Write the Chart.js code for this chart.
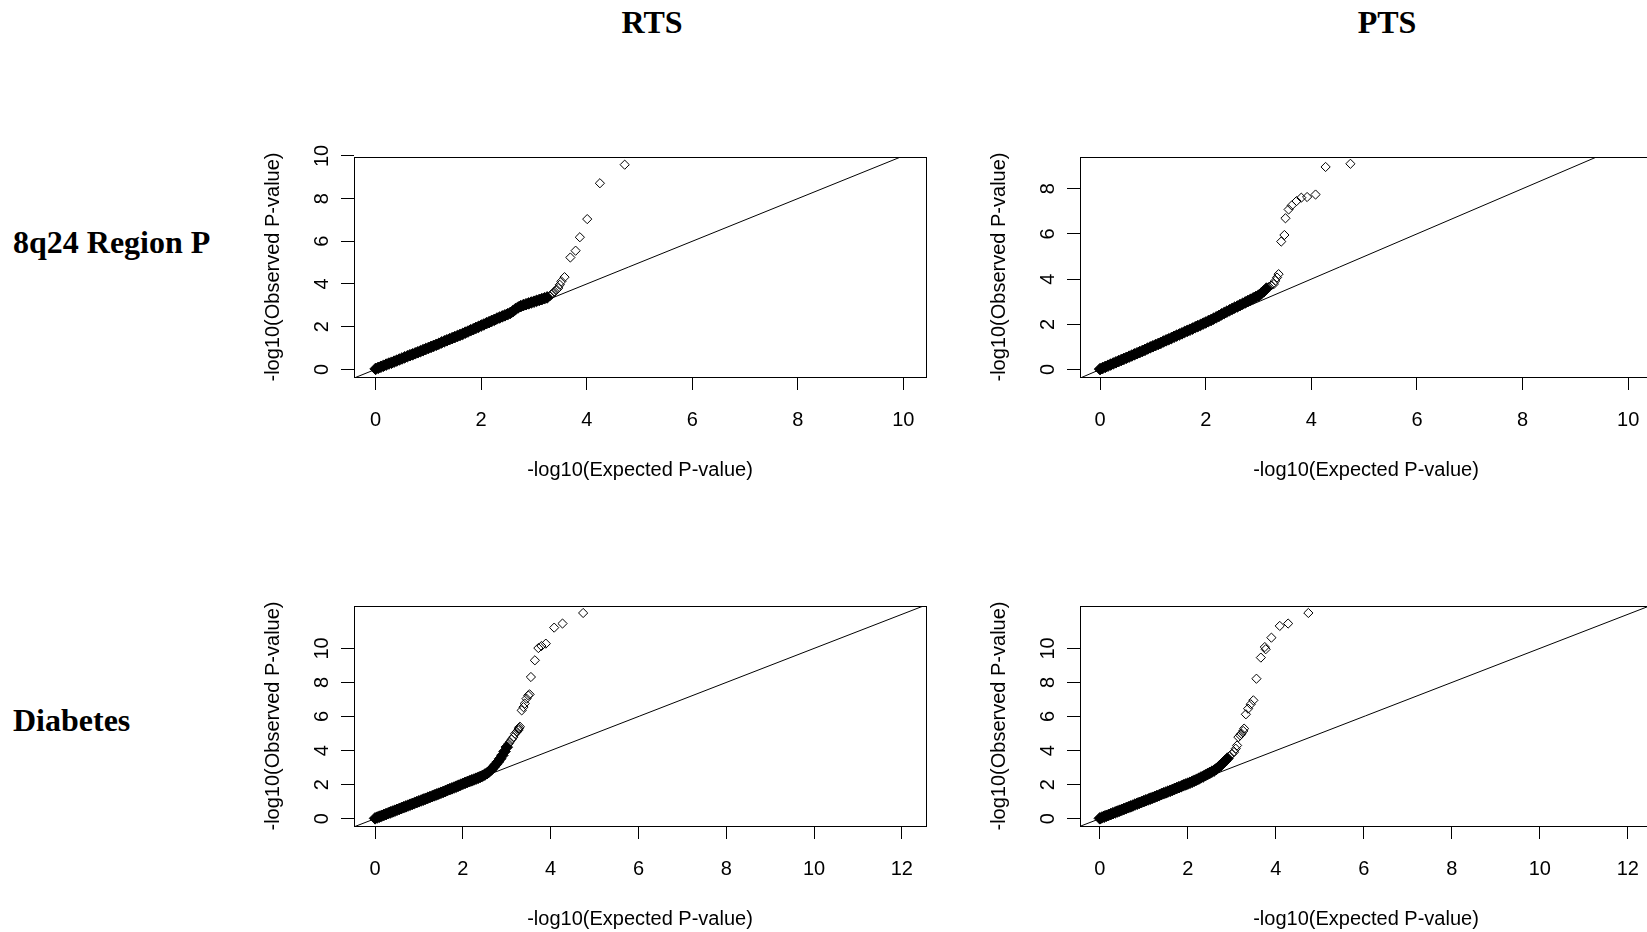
<!DOCTYPE html>
<html>
<head>
<meta charset="utf-8">
<script src="https://cdn.jsdelivr.net/npm/chart.js@4.4.1/dist/chart.umd.min.js"></script>
<style>
html, body { margin: 0; padding: 0; background: #fff; }
body { position: relative; width: 1647px; height: 932px; overflow: hidden; }
.lbl { position: absolute; font-family: "Liberation Serif", "Times New Roman", serif; font-weight: bold;
       font-size: 32px; line-height: 32px; color: #000; white-space: nowrap; }
canvas { position: absolute; }
</style>
</head>
<body>
<div class="lbl" style="left:652px; top:6px; transform:translateX(-50%)">RTS</div>
<div class="lbl" style="left:1387px; top:6px; transform:translateX(-50%)">PTS</div>
<div class="lbl" style="left:13px; top:226px">8q24 Region P</div>
<div class="lbl" style="left:13px; top:704px">Diabetes</div>

<script>
// tick values
const ticksTo8 = [0, 2, 4, 6, 8];
const ticksTo10 = [0, 2, 4, 6, 8, 10];
const ticksTo12 = [0, 2, 4, 6, 8, 10, 12];

// y = x reference line, drawn past both ends and clipped by the plot box
const diagonalEnds = [-1, 14];

// 8q24 Region P - RTS: bulk of the SNPs, then the top hits
const rtsRegionBulkExp = [
  0.00, 0.05, 0.10, 0.15, 0.20, 0.25, 0.30, 0.35, 0.40, 0.45, 0.50, 0.55, 0.60, 0.65, 0.70, 0.75, 0.80, 0.85,
  0.90, 0.95, 1.00, 1.05, 1.10, 1.15, 1.20, 1.25, 1.30, 1.35, 1.40, 1.45, 1.50, 1.55, 1.60, 1.65, 1.70, 1.75,
  1.80, 1.85, 1.90, 1.95, 2.00, 2.05, 2.10, 2.15, 2.20, 2.25, 2.30, 2.35, 2.40, 2.45, 2.50, 2.55, 2.60, 2.65,
  2.70, 2.75, 2.80, 2.85, 2.90, 2.95, 3.00, 3.05, 3.10, 3.15, 3.20, 3.25
];
const rtsRegionBulkObs = [
  0.02, 0.07, 0.12, 0.17, 0.22, 0.27, 0.31, 0.36, 0.41, 0.46, 0.51, 0.56, 0.61, 0.66, 0.70, 0.75, 0.80, 0.85,
  0.90, 0.95, 1.00, 1.05, 1.10, 1.15, 1.20, 1.26, 1.31, 1.36, 1.41, 1.46, 1.51, 1.56, 1.61, 1.66, 1.72, 1.77,
  1.83, 1.88, 1.94, 1.99, 2.05, 2.10, 2.16, 2.21, 2.27, 2.32, 2.38, 2.43, 2.48, 2.53, 2.58, 2.64, 2.72, 2.82,
  2.90, 2.96, 3.01, 3.05, 3.09, 3.13, 3.17, 3.21, 3.25, 3.29, 3.33, 3.37
];
const rtsRegionTopExp = [3.30, 3.33, 3.36, 3.39, 3.43, 3.46, 3.49, 3.52, 3.58, 3.69, 3.79, 3.87, 4.01, 4.25, 4.72];
const rtsRegionTopObs = [3.42, 3.50, 3.57, 3.65, 3.73, 3.81, 3.96, 4.12, 4.32, 5.24, 5.56, 6.19, 7.04, 8.72, 9.59];

// 8q24 Region P - PTS
const ptsRegionBulkExp = [
  0.00, 0.05, 0.10, 0.15, 0.20, 0.25, 0.30, 0.35, 0.40, 0.45, 0.50, 0.55, 0.60, 0.65, 0.70, 0.75, 0.80, 0.85,
  0.90, 0.95, 1.00, 1.05, 1.10, 1.15, 1.20, 1.25, 1.30, 1.35, 1.40, 1.45, 1.50, 1.55, 1.60, 1.65, 1.70, 1.75,
  1.80, 1.85, 1.90, 1.95, 2.00, 2.05, 2.10, 2.15, 2.20, 2.25, 2.30, 2.35, 2.40, 2.45, 2.50, 2.55, 2.60, 2.65,
  2.70, 2.75, 2.80, 2.85, 2.90, 2.95, 3.00, 3.05, 3.10, 3.15
];
const ptsRegionBulkObs = [
  0.02, 0.07, 0.12, 0.17, 0.22, 0.27, 0.32, 0.37, 0.42, 0.47, 0.52, 0.57, 0.62, 0.67, 0.72, 0.77, 0.82, 0.87,
  0.93, 0.98, 1.03, 1.08, 1.13, 1.18, 1.24, 1.29, 1.34, 1.39, 1.45, 1.50, 1.55, 1.60, 1.66, 1.71, 1.76, 1.81,
  1.87, 1.92, 1.97, 2.03, 2.08, 2.14, 2.19, 2.25, 2.31, 2.37, 2.44, 2.50, 2.56, 2.62, 2.68, 2.74, 2.79, 2.85,
  2.91, 2.97, 3.03, 3.09, 3.15, 3.21, 3.27, 3.36, 3.46, 3.58
];
const ptsRegionTopExp = [3.20, 3.24, 3.29, 3.32, 3.35, 3.38, 3.43, 3.49, 3.51, 3.57, 3.63, 3.72, 3.81, 3.92, 4.08, 4.27, 4.74];
const ptsRegionTopObs = [3.66, 3.72, 3.78, 3.93, 4.07, 4.22, 5.66, 5.95, 6.69, 7.08, 7.26, 7.45, 7.60, 7.63, 7.74, 8.96, 9.10];

// Diabetes - RTS
const rtsDiabetesBulkExp = [
  0.00, 0.05, 0.10, 0.15, 0.20, 0.25, 0.30, 0.35, 0.40, 0.45, 0.50, 0.55, 0.60, 0.65, 0.70, 0.75, 0.80, 0.85,
  0.90, 0.95, 1.00, 1.05, 1.10, 1.15, 1.20, 1.25, 1.30, 1.35, 1.40, 1.45, 1.50, 1.55, 1.60, 1.65, 1.70, 1.75,
  1.80, 1.85, 1.90, 1.95, 2.00, 2.05, 2.10, 2.15, 2.20, 2.25, 2.30, 2.35, 2.40, 2.45, 2.50, 2.55, 2.60, 2.65,
  2.70, 2.75, 2.80, 2.85, 2.90, 2.95, 3.00
];
const rtsDiabetesBulkObs = [
  0.02, 0.07, 0.12, 0.17, 0.22, 0.27, 0.32, 0.37, 0.42, 0.47, 0.52, 0.57, 0.62, 0.67, 0.72, 0.77, 0.82, 0.87,
  0.92, 0.97, 1.02, 1.07, 1.12, 1.17, 1.22, 1.27, 1.32, 1.37, 1.42, 1.47, 1.52, 1.57, 1.62, 1.68, 1.73, 1.78,
  1.83, 1.88, 1.94, 1.99, 2.05, 2.10, 2.15, 2.20, 2.25, 2.30, 2.35, 2.40, 2.46, 2.52, 2.59, 2.67, 2.77, 2.89,
  3.03, 3.18, 3.34, 3.52, 3.72, 3.95, 4.20
];
const rtsDiabetesTopExp = [
  3.04, 3.07, 3.11, 3.15, 3.19, 3.23, 3.26, 3.27, 3.28, 3.30, 3.34, 3.38, 3.41, 3.45, 3.49, 3.52, 3.55, 3.64,
  3.72, 3.79, 3.89, 4.08, 4.27, 4.74
];
const rtsDiabetesTopObs = [
  4.40, 4.50, 4.65, 4.79, 4.99, 5.10, 5.19, 5.26, 5.33, 5.40, 6.36, 6.55, 6.76, 7.05, 7.24, 7.30, 8.32, 9.30,
  10.02, 10.14, 10.28, 11.22, 11.46, 12.08
];

// Diabetes - PTS
const ptsDiabetesBulkExp = [
  0.00, 0.05, 0.10, 0.15, 0.20, 0.25, 0.30, 0.35, 0.40, 0.45, 0.50, 0.55, 0.60, 0.65, 0.70, 0.75, 0.80, 0.85,
  0.90, 0.95, 1.00, 1.05, 1.10, 1.15, 1.20, 1.25, 1.30, 1.35, 1.40, 1.45, 1.50, 1.55, 1.60, 1.65, 1.70, 1.75,
  1.80, 1.85, 1.90, 1.95, 2.00, 2.05, 2.10, 2.15, 2.20, 2.25, 2.30, 2.35, 2.40, 2.45, 2.50, 2.55, 2.60, 2.65,
  2.70, 2.75, 2.80, 2.85, 2.90
];
const ptsDiabetesBulkObs = [
  0.02, 0.07, 0.12, 0.17, 0.22, 0.27, 0.32, 0.37, 0.42, 0.47, 0.52, 0.57, 0.62, 0.67, 0.72, 0.77, 0.83, 0.88,
  0.93, 0.98, 1.03, 1.08, 1.13, 1.18, 1.23, 1.28, 1.33, 1.38, 1.44, 1.49, 1.54, 1.59, 1.64, 1.69, 1.75, 1.80,
  1.85, 1.90, 1.96, 2.01, 2.06, 2.11, 2.17, 2.23, 2.29, 2.35, 2.42, 2.48, 2.55, 2.62, 2.69, 2.76, 2.83, 2.92,
  3.03, 3.14, 3.27, 3.40, 3.53
];
const ptsDiabetesTopExp = [
  2.95, 3.00, 3.05, 3.09, 3.12, 3.15, 3.19, 3.22, 3.26, 3.28, 3.32, 3.37, 3.43, 3.49, 3.56, 3.66, 3.75, 3.77,
  3.90, 4.09, 4.28, 4.74
];
const ptsDiabetesTopObs = [
  3.68, 3.80, 3.91, 4.11, 4.30, 4.79, 4.90, 4.99, 5.15, 5.29, 6.13, 6.46, 6.72, 6.95, 8.22, 9.46, 10.08, 9.95,
  10.63, 11.32, 11.46, 12.08
];

const AXIS_FONT = { family: '"Liberation Sans", Arial, sans-serif', size: 20 };
const TICK_LEN = 13;
const Y_AXIS_W = 100;
const X_AXIS_H = 110;
const PAD_TOP = 40;

// panel boxes in page pixels, plus axis ranges
const panels = [
  { box: [354, 157, 926, 377], x: [-0.41, 10.43], y: [-0.36, 9.95], xt: ticksTo10, yt: ticksTo10,
    bulk: [rtsRegionBulkExp, rtsRegionBulkObs], top: [rtsRegionTopExp, rtsRegionTopObs] },
  { box: [1080, 157, 1652, 377], x: [-0.38, 10.45], y: [-0.33, 9.40], xt: ticksTo10, yt: ticksTo8,
    bulk: [ptsRegionBulkExp, ptsRegionBulkObs], top: [ptsRegionTopExp, ptsRegionTopObs] },
  { box: [354, 606, 926, 826], x: [-0.48, 12.55], y: [-0.43, 12.49], xt: ticksTo12, yt: ticksTo10,
    bulk: [rtsDiabetesBulkExp, rtsDiabetesBulkObs], top: [rtsDiabetesTopExp, rtsDiabetesTopObs] },
  { box: [1080, 606, 1652, 826], x: [-0.45, 12.55], y: [-0.43, 12.49], xt: ticksTo12, yt: ticksTo10,
    bulk: [ptsDiabetesBulkExp, ptsDiabetesBulkObs], top: [ptsDiabetesTopExp, ptsDiabetesTopObs] }
];

// frame around the plotting region, like box() in base graphics
const plotBox = {
  id: 'plotBox',
  afterDatasetsDraw(chart) {
    const { ctx, chartArea: a } = chart;
    ctx.save();
    ctx.strokeStyle = '#000';
    ctx.lineWidth = 1;
    ctx.strokeRect(Math.round(a.left) + 0.5, Math.round(a.top) + 0.5,
                   Math.round(a.right - a.left), Math.round(a.bottom - a.top));
    ctx.restore();
  }
};

const measureCtx = document.createElement('canvas').getContext('2d');
measureCtx.font = '20px "Liberation Sans"';
function yLabelPadding(values) {
  const widest = Math.max(...values.map(v => measureCtx.measureText(String(v)).width));
  return 32 - TICK_LEN - widest / 2;
}

const toPoints = ([xs, ys]) => xs.map((x, i) => ({ x, y: ys[i] }));

panels.forEach(p => {
  const [l, t, r, b] = p.box;
  const canvas = document.createElement('canvas');
  canvas.width = (r - l) + Y_AXIS_W + 20 + 20;
  canvas.height = (b - t) + PAD_TOP + X_AXIS_H + 10;
  canvas.style.left = (l - Y_AXIS_W - 20) + 'px';
  canvas.style.top = (t - PAD_TOP) + 'px';
  document.body.appendChild(canvas);

  new Chart(canvas, {
    type: 'scatter',
    data: {
      datasets: [
        {
          data: diagonalEnds.map(v => ({ x: v, y: v })),
          showLine: true,
          borderColor: '#000',
          borderWidth: 1,
          pointRadius: 0
        },
        {
          // sparse upper tail: open diamonds
          data: toPoints(p.top),
          pointStyle: 'rectRot',
          pointRadius: 4.6,
          pointBorderWidth: 1,
          pointBorderColor: '#000',
          pointBackgroundColor: 'rgba(0,0,0,0)'
        },
        {
          // the bulk: thousands of overlapping diamonds merge into a solid band
          data: toPoints(p.bulk),
          pointStyle: 'rectRot',
          pointRadius: 5.8,
          pointBorderWidth: 1,
          pointBorderColor: '#000',
          pointBackgroundColor: '#000'
        }
      ]
    },
    options: {
      responsive: false,
      animation: false,
      devicePixelRatio: 1,
      layout: { padding: { left: 20, top: PAD_TOP, right: 20, bottom: 10 } },
      plugins: { legend: { display: false }, tooltip: { enabled: false } },
      scales: {
        x: {
          type: 'linear',
          min: p.x[0],
          max: p.x[1],
          afterBuildTicks: s => { s.ticks = p.xt.map(v => ({ value: v })); },
          afterFit: s => { s.height = X_AXIS_H; },
          border: { display: false },
          grid: { drawOnChartArea: false, drawTicks: true, tickLength: TICK_LEN, tickColor: '#000', tickWidth: 1 },
          ticks: { color: '#000', font: AXIS_FONT, padding: 18, maxRotation: 0, minRotation: 0 },
          title: { display: true, text: '-log10(Expected P-value)', color: '#000', font: AXIS_FONT,
                   padding: { top: 0, bottom: 5 } }
        },
        y: {
          type: 'linear',
          min: p.y[0],
          max: p.y[1],
          afterBuildTicks: s => { s.ticks = p.yt.map(v => ({ value: v })); },
          afterFit: s => { s.width = Y_AXIS_W; },
          border: { display: false },
          grid: { drawOnChartArea: false, drawTicks: true, tickLength: TICK_LEN, tickColor: '#000', tickWidth: 1 },
          ticks: { color: '#000', font: AXIS_FONT, padding: yLabelPadding(p.yt),
                   minRotation: 90, maxRotation: 90, crossAlign: 'center' },
          title: { display: true, text: '-log10(Observed P-value)', color: '#000', font: AXIS_FONT,
                   padding: { top: 7, bottom: 0 } }
        }
      }
    },
    plugins: [plotBox]
  });
});
</script>
</body>
</html>
